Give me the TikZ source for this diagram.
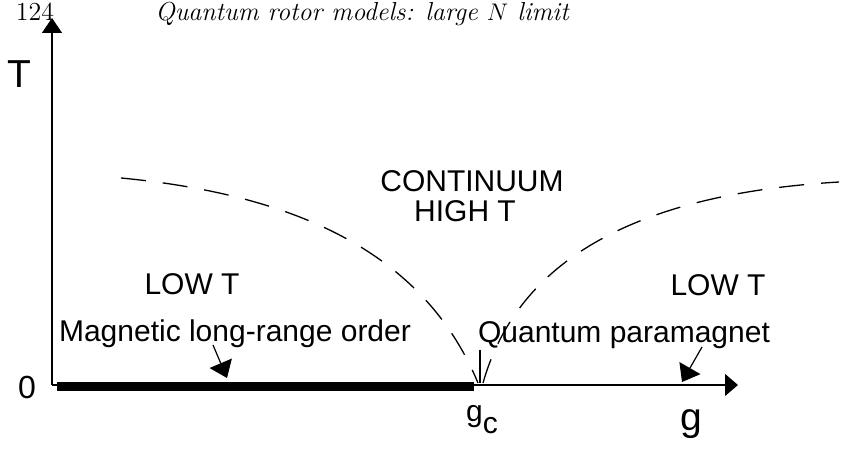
\documentclass[tikz,border=0pt]{standalone}
\usepackage{fontspec}
\usepackage{tikz}
\usetikzlibrary{arrows.meta, positioning, calc}
\newfontfamily\labfont{Liberation Sans}

\tikzset{
  lbl/.style={inner sep=0pt, font=\labfont\fontsize{15}{17}\selectfont},
  axlbl/.style={inner sep=0pt, font=\labfont\fontsize{19.5}{22}\selectfont},
  crit/.style={dash pattern=on 12.5pt off 8.5pt, line width=0.65pt},
  pointer/.style={line width=0.6pt, -{Triangle[length=8pt,width=12pt]}}
}

\begin{document}
\begin{tikzpicture}[x=0.5pt, y=-0.5pt]
\useasboundingbox (0,0) rectangle (859,449);

% ヘッダ
\node[inner sep=0pt, anchor=base, font=\fontsize{13}{15}\selectfont] (page) at (35,21) {124};
\node[inner sep=0pt, anchor=base, font=\fontsize{13}{15}\selectfont\itshape] (title) at (362,21) {Quantum rotor models: large $N$ limit};

% 軸
\coordinate (O) at (52,385);
\coordinate (Ttip) at (52,18);
\coordinate (gtip) at (738,385);
\draw[line width=0.65pt, -{Triangle[length=7.5pt,width=10pt]}] (O) -- (Ttip);
\draw[line width=0.65pt, -{Triangle[length=6.5pt,width=11pt]}] (O) -- (gtip);
\node[axlbl] (T) at (19,74) {T};
\node[axlbl] (g) at (691,424) {g};
\node[lbl, font=\labfont\fontsize{16}{18}\selectfont] (zero) at (27,387) {0};

% 秩序相：太線
\coordinate (ordA) at (57,387);
\coordinate (gc) at (474,387);
\draw[line width=4.5pt] (ordA) -- (gc);
\node[lbl] (gclbl) at (482,420) {g\raisebox{-6pt}{c}};

% クロスオーバー（破線）
\coordinate (lstart) at (121,178);
\coordinate (lend) at (478,383);
\coordinate (rstart) at (483,383);
\coordinate (rend) at (839,182);
\draw[crit] (lstart) .. controls (300,195) and (425,255) .. (lend);
\draw[crit] (rstart) .. controls (515,270) and (620,195) .. (rend);
\coordinate (gcmark) at (480,350);
\coordinate (gcfoot) at (480,383);
\draw[line width=0.6pt] (gcmark) -- (gcfoot);

% 領域の名前
\node[lbl] (cont) at (472,181) {CONTINUUM};
\node[lbl] (high) at (465,211) {HIGH T};
\node[lbl] (lowL) at (192,284) {LOW T};
\node[lbl] (lowR) at (718,285) {LOW T};
\node[lbl] (mlro) at (235,334) {Magnetic long-range order};
\node[lbl] (qpm) at (624,335) {Quantum paramagnet};

% 矢印
\coordinate (mlroA) at (213,345);
\coordinate (mlroB) at (227,378);
\coordinate (qpmA) at (702,347);
\coordinate (qpmB) at (682,382);
\draw[pointer] (mlroA) -- (mlroB);
\draw[pointer] (qpmA) -- (qpmB);

\end{tikzpicture}
\end{document}
